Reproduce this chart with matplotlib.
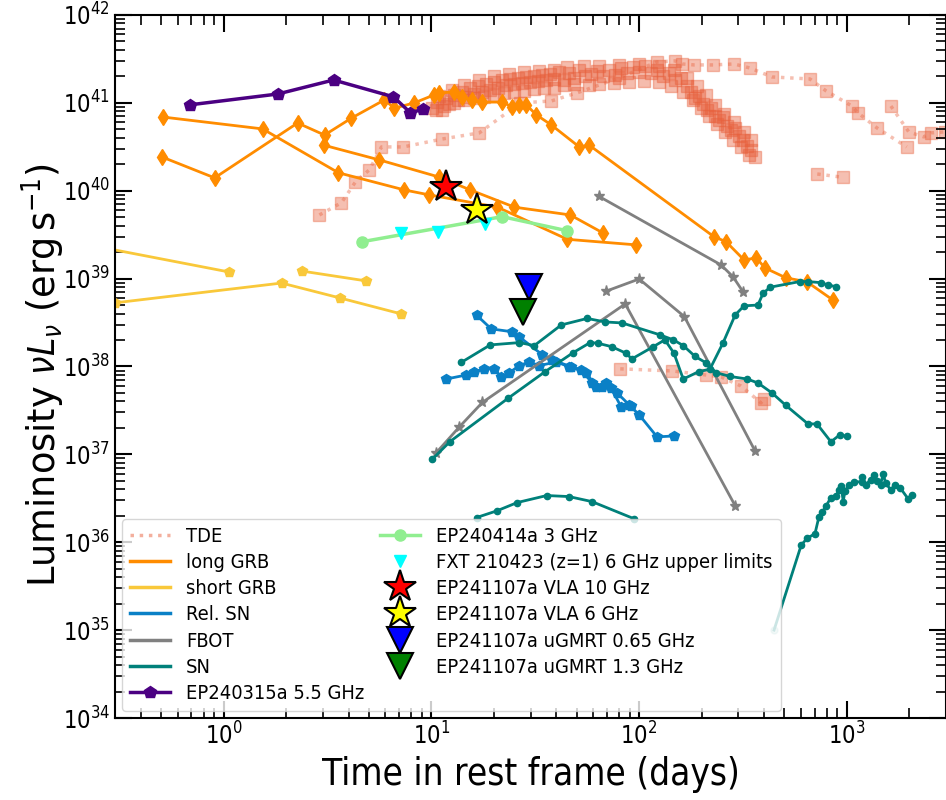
import numpy as np
import matplotlib.pyplot as plt
from matplotlib.lines import Line2D

plt.rcParams['font.stretch'] = 'condensed'

# ---- TDE (days, erg/s) ----
# dense light curve: centre, lower edge and upper edge of the band
tde_cloud_t = [10.1, 10.6, 11.2, 11.7, 12.2, 12.9, 13.5, 14.1, 14.7, 15.4, 16.1, 16.8, 17.6, 18.4,
               19.2, 20.1, 21.0, 21.9, 22.9, 24.0, 25.1, 26.2, 27.4, 28.6, 29.9, 31.3, 32.7, 34.2,
               35.7, 37.3, 39.0, 41.2, 43.6, 46.1, 48.7, 51.5, 55.0, 58.7, 62.8, 67.1, 71.8, 76.7,
               81.9, 87.6, 93.6, 100, 107, 114, 122, 130, 139, 149, 159, 170, 178, 186, 194, 203,
               212, 222, 232, 243, 253, 265, 277, 290, 303, 316, 331, 345]
tde_cloud_L = [8.75e40, 1.02e41, 8.3e40, 1.14e41, 9.7e40, 1.23e41, 1.08e41, 1.33e41, 1.17e41,
               1.48e41, 1.26e41, 1.56e41, 1.33e41, 1.64e41, 1.40e41, 1.73e41, 1.48e41, 1.82e41,
               1.60e41, 1.87e41, 1.64e41, 1.92e41, 1.68e41, 1.97e41, 1.73e41, 2.02e41, 1.78e41,
               2.08e41, 1.82e41, 2.13e41, 1.87e41, 2.25e41, 1.82e41, 2.19e41, 1.92e41, 2.37e41,
               2.02e41, 2.13e41, 2.31e41, 2.02e41, 2.37e41, 2.08e41, 2.49e41, 2.19e41, 2.56e41,
               2.25e41, 2.63e41, 2.19e41, 2.37e41, 2.02e41, 2.19e41, 1.82e41, 1.92e41, 1.56e41,
               1.33e41, 1.14e41, 1.20e41, 9.7e40, 8.3e40, 8.75e40, 7.1e40, 6.4e40, 6.9e40,
               5.5e40, 4.9e40, 5.2e40, 4.2e40, 3.8e40, 3.2e40, 2.9e40]
tde_low_t = [10.5, 11.5, 12.9, 14.4, 16.1, 18.0, 20.1, 22.4, 25.1, 28.0, 31.3, 34.9, 39.0, 43.6,
             48.7, 57.5, 64.2, 75.9, 89.5, 106, 125, 143, 163, 182, 199, 217, 237, 259, 283, 309,
             338, 361]
tde_low_L = [8.3e40, 9.2e40, 1.0e41, 1.08e41, 1.14e41, 1.17e41, 1.23e41, 1.30e41, 1.33e41,
             1.37e41, 1.44e41, 1.48e41, 1.48e41, 1.60e41, 1.64e41, 1.60e41, 1.64e41, 1.68e41,
             1.73e41, 1.78e41, 1.73e41, 1.56e41, 1.33e41, 1.08e41, 8.75e40, 7.1e40, 5.75e40,
             4.67e40, 3.8e40, 3.15e40, 2.55e40, 2.43e40]
tde_up_t = [10.9, 12.5, 14.4, 17.0, 20.1, 23.7, 28.0, 33.0, 39.0, 45.1, 54.4, 64.2, 80.1, 100,
            125, 147, 170, 190, 210, 232, 256, 286, 320, 345]
tde_up_L = [1.20e41, 1.40e41, 1.60e41, 1.82e41, 2.02e41, 2.13e41, 2.25e41, 2.31e41, 2.37e41,
            2.56e41, 2.63e41, 2.63e41, 2.70e41, 2.77e41, 2.63e41, 2.37e41, 1.92e41, 1.56e41,
            1.23e41, 9.5e40, 7.5e40, 6.1e40, 4.67e40, 3.8e40]

tde2_t = [2.89, 3.69, 4.31, 5.03, 5.75, 7.33, 11.3, 17.0, 26.8, 37.8, 50.3, 80.1, 122, 149, 161,
          184, 227, 286, 342, 436, 664, 793, 1057, 1130, 1393, 1941]
tde2_L = [5.3e39, 7.3e39, 1.26e40, 1.73e40, 3.15e40, 3.15e40, 3.88e40, 4.55e40, 9.98e40,
          1.05e41, 1.30e41, 1.92e41, 2.92e41, 3.0e41, 2.77e41, 2.7e41, 2.7e41, 2.77e41, 2.49e41,
          1.97e41, 1.87e41, 1.37e41, 9.2e40, 7.7e40, 5.2e40, 3.15e40]

tde3_t = [1629, 1986, 2344, 2534, 2958, 3500]
tde3_L = [9.2e40, 4.67e40, 4.1e40, 4.55e40, 4.67e40, 4.9e40]

tde4_t = [720, 960]
tde4_L = [1.55e40, 1.42e40]

tde5_t = [81.1, 144, 210, 248, 309, 386, 399]
tde5_L = [9.4e37, 8.9e37, 8.0e37, 7.6e37, 6.0e37, 3.86e37, 4.3e37]

# ---- long GRBs ----
lgrb_a_t = [0.509, 1.54, 3.57, 7.42, 9.78, 20.8, 45.1, 96.8]
lgrb_a_L = [6.9e40, 5.05e40, 1.6e40, 1.02e40, 8.96e39, 6.5e39, 2.8e39, 2.42e39]

lgrb_b_t = [3.03, 5.62, 10.9, 15.4, 25.1, 46.6, 67.1]
lgrb_b_L = [3.3e40, 2.24e40, 1.43e40, 1.02e40, 6.5e39, 5.3e39, 3.3e39]

lgrb_c_t = [0.503, 0.905, 2.27, 3.06, 4.12, 5.94, 6.64, 8.28, 10.3, 10.9, 12.9, 14.1, 15.7, 17.6,
            21.9, 24.5, 26.5, 28.6, 32.0, 37.8, 51.5, 57.5, 229, 262, 320, 366, 404, 509, 642, 857]
lgrb_c_L = [2.43e40, 1.40e40, 5.9e40, 4.3e40, 6.7e40, 1.08e41, 8.7e40, 1.0e41, 1.23e41, 1.30e41,
            1.33e41, 1.17e41, 1.08e41, 1.02e41, 1.02e41, 9.0e40, 9.5e40, 9.5e40, 7.3e40, 5.6e40,
            3.15e40, 3.3e40, 3.0e39, 2.63e39, 1.63e39, 1.72e39, 1.32e39, 1.02e39, 9.2e38, 5.7e38]

# ---- short GRBs ----
sgrb_a_t = [0.25, 1.06]
sgrb_a_L = [2.3e39, 1.19e39]
sgrb_b_t = [0.30, 1.90, 3.65, 7.17]
sgrb_b_L = [5.3e38, 8.9e38, 6.0e38, 3.96e38]
sgrb_c_t = [2.37, 4.87]
sgrb_c_L = [1.22e39, 9.4e38]

# ---- relativistic SNe ----
rsn_a_t = [16.5, 19.4, 24.5, 26.5, 34.2, 38.2, 47.1, 55.6, 62.1, 69.4, 78.4, 89.5, 100, 122, 147]
rsn_a_L = [3.84e38, 2.68e38, 2.48e38, 2.17e38, 1.36e38, 1.19e38, 9.9e37, 8.5e37, 5.9e37, 6.5e37,
           5.0e37, 3.66e37, 2.82e37, 1.58e37, 1.62e37]
rsn_b_t = [11.8, 14.7, 16.1, 18.0, 20.1, 21.7, 23.7, 26.5, 29.6, 33.0, 39.9, 46.1, 52.6, 59.4,
           66.4, 73.3, 81.9, 91.6]
rsn_b_L = [7.2e37, 8.0e37, 8.7e37, 9.4e37, 9.4e37, 7.6e37, 8.5e37, 1.02e38, 1.13e38, 1.02e38,
           1.13e38, 9.9e37, 9.15e37, 6.5e37, 5.9e37, 5.7e37, 3.47e37, 3.56e37]

# ---- FBOTs ----
fbot_a_t = [64.2, 248, 283, 316]
fbot_a_L = [8.6e39, 1.43e39, 1.05e39, 7.1e38]
fbot_b_t = [69.4, 100, 165, 361]
fbot_b_L = [7.2e38, 9.9e38, 3.7e38, 1.1e37]
fbot_c_t = [10.5, 13.6, 17.6, 85.7, 290]
fbot_c_L = [1.03e37, 2.04e37, 3.9e37, 5.15e38, 2.6e36]

# ---- SNe ----
sn_a_t = [10.1, 12.3, 23.4, 35.3, 48.2, 58.1, 63.2, 73.8, 86.2, 92.3, 117, 133, 147, 163, 194,
          219, 253, 290, 320, 373, 395, 427, 593, 650, 747, 807, 885]
sn_a_L = [8.8e36, 1.40e37, 4.35e37, 8.75e37, 1.44e38, 1.87e38, 1.84e38, 1.68e38, 1.42e38,
          1.22e38, 1.68e38, 2.01e38, 1.42e38, 7.2e37, 8.75e37, 9.3e37, 1.84e38, 3.86e38, 4.9e38,
          5.0e38, 6.8e38, 7.98e38, 9.25e38, 9.25e38, 9.0e38, 8.5e38, 8.1e38]
sn_b_t = [13.9, 19.2, 26.5, 31.3, 42.2, 56.2, 68.7, 82.8, 126, 146, 163, 186, 210, 235, 274,
          331, 373, 436, 509, 650, 718, 838, 925, 1000]
sn_b_L = [1.11e38, 1.76e38, 1.87e38, 1.73e38, 2.97e38, 3.52e38, 3.21e38, 3.13e38, 2.29e38,
          2.01e38, 1.73e38, 1.30e38, 1.10e38, 8.5e37, 7.7e37, 7.2e37, 6.5e37, 5.0e37, 3.6e37,
          2.22e37, 2.22e37, 1.39e37, 1.67e37, 1.6e37]
sn_c_t = [16.5, 20.7, 25.9, 35.9, 45.9, 59.3, 94.6]
sn_c_L = [1.91e36, 2.28e36, 2.83e36, 3.4e36, 3.31e36, 2.9e36, 1.85e36]
sn_d_t = [446, 603, 644, 702, 733, 761, 795, 835, 889, 916, 939, 960, 978, 1023, 1081, 1177, 1185,
          1231, 1300, 1349, 1400, 1452, 1495, 1535, 1622, 1714, 1811, 1971, 2061]
sn_d_L = [1.0e35, 9.3e35, 1.11e36, 1.25e36, 1.93e36, 2.18e36, 2.6e36, 3.18e36, 3.38e36, 3.95e36,
          4.42e36, 2.9e36, 3.78e36, 4.5e36, 4.83e36, 4.9e36, 5.5e36, 4.5e36, 5.13e36, 5.85e36,
          5.0e36, 4.5e36, 6.0e36, 4.78e36, 3.95e36, 4.5e36, 4.12e36, 3.12e36, 3.46e36]

# ---- EP sources ----
ep240315_t = [0.69, 1.82, 3.38, 6.57, 7.93, 9.15]
ep240315_L = [9.5e40, 1.26e41, 1.82e41, 1.17e41, 7.7e40, 8.5e40]
ep240414_t = [4.61, 21.9, 45.1]
ep240414_L = [2.62e39, 5.07e39, 3.5e39]
fxt_t = [7.17, 10.7, 18.2]
fxt_L = [3.3e39, 3.4e39, 4.2e39]
vla10_t, vla10_L = [11.8], [1.1e40]
vla6_t, vla6_L = [16.6], [6.0e39]
gmrt065_t, gmrt065_L = [29.5], [8.0e38]
gmrt13_t, gmrt13_L = [27.7], [4.2e38]

tde_c = '#e8603c'
lgrb_c = '#ff8c00'
sgrb_c = '#f9c83a'
rsn_c = '#0a80c6'
fbot_c = 'grey'
sn_c = '#00807a'

fig = plt.figure(figsize=(9.46, 8), dpi=100)
ax = fig.add_axes([0.1216, 0.1025, 0.8784, 0.8788])

# TDEs
for t, L in [(tde_cloud_t, tde_cloud_L), (tde_low_t, tde_low_L), (tde_up_t, tde_up_L)]:
    ax.plot(t, L, ls='none', marker='s', ms=9, color=tde_c, alpha=0.42, zorder=1)
for t, L in [(tde2_t, tde2_L), (tde3_t, tde3_L), (tde4_t, tde4_L), (tde5_t, tde5_L)]:
    ax.plot(t, L, ls=':', lw=2.5, marker='s', ms=9, color=tde_c, alpha=0.4, zorder=1)

for t, L in [(lgrb_a_t, lgrb_a_L), (lgrb_b_t, lgrb_b_L), (lgrb_c_t, lgrb_c_L)]:
    ax.plot(t, L, '-', marker='d', ms=8, lw=2, color=lgrb_c, zorder=2)
for t, L in [(sgrb_a_t, sgrb_a_L), (sgrb_b_t, sgrb_b_L), (sgrb_c_t, sgrb_c_L)]:
    ax.plot(t, L, '-', marker='p', ms=7, lw=2, color=sgrb_c, zorder=2)
for t, L in [(rsn_a_t, rsn_a_L), (rsn_b_t, rsn_b_L)]:
    ax.plot(t, L, '-', marker='p', ms=7, lw=2, color=rsn_c, zorder=2)
for t, L in [(fbot_a_t, fbot_a_L), (fbot_b_t, fbot_b_L), (fbot_c_t, fbot_c_L)]:
    ax.plot(t, L, '-', marker='*', ms=8, lw=2, color=fbot_c, zorder=2)
for t, L in [(sn_a_t, sn_a_L), (sn_b_t, sn_b_L), (sn_c_t, sn_c_L)]:
    ax.plot(t, L, '-', marker='o', ms=4.5, lw=2, color=sn_c, zorder=2)
ax.plot(sn_d_t, sn_d_L, '-', marker='o', ms=4.5, lw=2, color=sn_c, zorder=2,
        markevery=list(range(1, len(sn_d_t))))
ax.plot(sn_d_t[:1], sn_d_L[:1], 'o', ms=5, color=sn_c, alpha=0.25, zorder=2)

ax.plot(ep240315_t, ep240315_L, '-', marker='p', ms=9, lw=2.5, color='indigo', zorder=3)
ax.plot(ep240414_t, ep240414_L, '-', marker='o', ms=8, lw=2.5, color='lightgreen', zorder=3)
ax.plot(fxt_t, fxt_L, 'v', ms=9, color='cyan', zorder=3)
ax.plot(vla10_t, vla10_L, '*', ms=24, color='red', mec='black', mew=1.5, zorder=4)
ax.plot(vla6_t, vla6_L, '*', ms=24, color='yellow', mec='black', mew=1.5, zorder=4)
ax.plot(gmrt065_t, gmrt065_L, 'v', ms=19, color='blue', mec='black', mew=1.5, zorder=4)
ax.plot(gmrt13_t, gmrt13_L, 'v', ms=19, color='green', mec='black', mew=1.5, zorder=4)

ax.set_xscale('log')
ax.set_yscale('log')
ax.set_xlim(0.3, 3000)
ax.set_ylim(1e34, 1e42)
ax.tick_params(which='both', direction='in', top=True, right=True, labelsize=17)
ax.tick_params(which='major', length=12, width=1.5)
ax.tick_params(which='minor', length=7, width=1.2)
for sp in ax.spines.values():
    sp.set_linewidth(1.5)

ax.set_xlabel('Time in rest frame (days)', fontsize=26.5)
ax.set_ylabel(r'Luminosity $\nu L_{\nu}$ (erg$\,$s$^{-1}$)', fontsize=26.5,
              fontstretch='normal')
ax.yaxis.set_label_coords(-0.058, 0.488)

handles = [
    Line2D([], [], ls=':', lw=2.5, color=tde_c, alpha=0.5, label='TDE'),
    Line2D([], [], lw=2.5, color=lgrb_c, label='long GRB'),
    Line2D([], [], lw=2.5, color=sgrb_c, label='short GRB'),
    Line2D([], [], lw=2.5, color=rsn_c, label='Rel. SN'),
    Line2D([], [], lw=2.5, color=fbot_c, label='FBOT'),
    Line2D([], [], lw=2.5, color=sn_c, label='SN'),
    Line2D([], [], lw=2.5, marker='p', ms=9, color='indigo', label='EP240315a 5.5 GHz'),
    Line2D([], [], lw=2.5, marker='o', ms=8, color='lightgreen', label='EP240414a 3 GHz'),
    Line2D([], [], ls='none', marker='v', ms=9, color='cyan',
           label='FXT 210423 (z=1) 6 GHz upper limits'),
    Line2D([], [], ls='none', marker='*', ms=24, color='red', mec='black', mew=1.5,
           label='EP241107a VLA 10 GHz'),
    Line2D([], [], ls='none', marker='*', ms=24, color='yellow', mec='black', mew=1.5,
           label='EP241107a VLA 6 GHz'),
    Line2D([], [], ls='none', marker='v', ms=19, color='blue', mec='black', mew=1.5,
           label='EP241107a uGMRT 0.65 GHz'),
    Line2D([], [], ls='none', marker='v', ms=19, color='green', mec='black', mew=1.5,
           label='EP241107a uGMRT 1.3 GHz'),
]
ax.legend(handles=handles, ncol=2, loc='lower left', fontsize=14.4, labelspacing=0.36,
          columnspacing=0.8, handlelength=2.0, borderaxespad=0.35)

fig.savefig('out.png', dpi=100)
